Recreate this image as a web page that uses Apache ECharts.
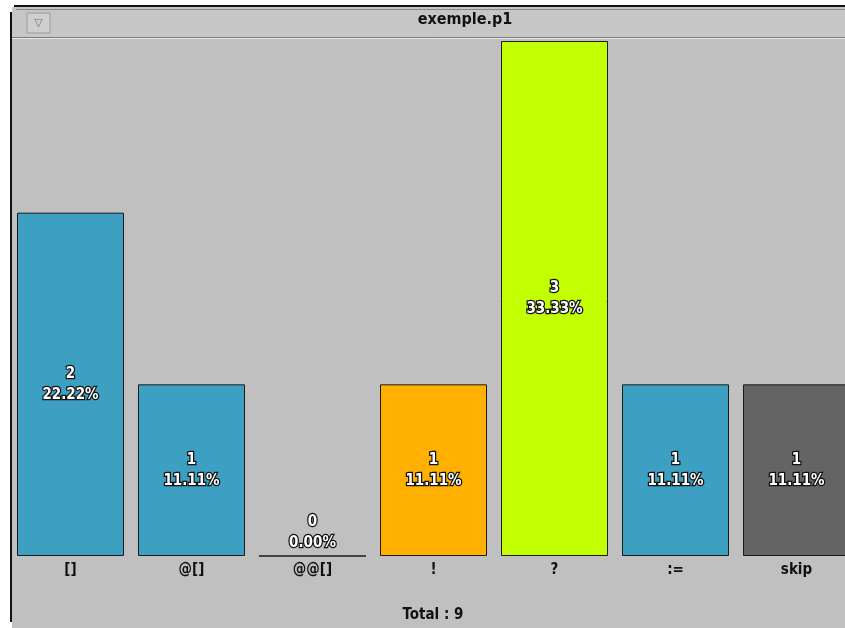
<!DOCTYPE html>
<html>
<head>
<meta charset="utf-8">
<script src="https://cdn.jsdelivr.net/npm/echarts@6/dist/echarts.min.js"></script>
<style>
html,body{margin:0;padding:0;background:#ffffff;overflow:hidden;width:845px;height:628px;}
#chart{width:857px;height:628px;}
</style>
</head>
<body>
<div id="chart"></div>
<script>
var categories = ['[]', '@[]', '@@[]', '!', '?', ':=', 'skip'];
var counts = [2, 1, 0, 1, 3, 1, 1];
var percents = ['22.22%', '11.11%', '0.00%', '11.11%', '33.33%', '11.11%', '11.11%'];
var total = 9;
var windowTitle = 'exemple.p1';

var barColors = ['#3d9fc1', '#3d9fc1', '#3d9fc1', '#ffb000', '#c2ff00', '#3d9fc1', '#646464'];

var chart = echarts.init(document.getElementById('chart'), null, {renderer: 'canvas'});

var labelFont = '"Liberation Sans Narrow","DejaVu Sans Condensed","Liberation Sans",sans-serif';

var data = counts.map(function (v, i) {
  var item = {
    value: v,
    itemStyle: {color: barColors[i], borderColor: '#1a1a1a', borderWidth: 1}
  };
  if (v === 0) {
    item.label = {position: 'top', distance: 2};
  }
  return item;
});

var option = {
  backgroundColor: '#ffffff',
  animation: false,
  graphic: [
    {type: 'rect', z: 0, shape: {x: 12, y: 7, width: 845, height: 621}, style: {fill: '#c6c6c6'}},
    {type: 'rect', z: 0, shape: {x: 12, y: 39, width: 845, height: 589}, style: {fill: '#c0c0c0'}},
    {type: 'line', z: 1, shape: {x1: 12, y1: 37.5, x2: 857, y2: 37.5}, style: {stroke: '#7a7a7a', lineWidth: 1}},
    {type: 'line', z: 1, shape: {x1: 12, y1: 38.5, x2: 857, y2: 38.5}, style: {stroke: '#e8e8e8', lineWidth: 1}},
    {type: 'line', z: 1, shape: {x1: 14, y1: 6, x2: 857, y2: 6}, style: {stroke: '#111111', lineWidth: 2}},
    {type: 'line', z: 1, shape: {x1: 16, y1: 9.5, x2: 857, y2: 9.5}, style: {stroke: '#888888', lineWidth: 1}},
    {type: 'line', z: 1, shape: {x1: 11, y1: 12, x2: 11, y2: 622}, style: {stroke: '#111111', lineWidth: 2}},
    {type: 'rect', z: 1, shape: {x: 27, y: 13, width: 23, height: 20}, style: {fill: '#cfcfcf', stroke: '#9a9a9a', lineWidth: 1}},
    {type: 'text', z: 2, style: {text: '\u25BD', x: 38.5, y: 23, align: 'center', verticalAlign: 'middle', fill: '#777777', font: '11px "DejaVu Sans",sans-serif'}},
    {type: 'text', z: 2, style: {text: windowTitle, x: 465, y: 20, align: 'center', verticalAlign: 'middle', fill: '#111111', font: 'bold 16px ' + labelFont}},
    {type: 'text', z: 2, style: {text: 'Total : ' + total, x: 433, y: 615, align: 'center', verticalAlign: 'middle', fill: '#111111', font: 'bold 15px ' + labelFont}}
  ],
  grid: {left: 10, top: 41, right: 0, height: 515, containLabel: false},
  xAxis: {
    type: 'category',
    data: categories,
    axisLine: {show: false},
    axisTick: {show: false},
    axisLabel: {
      color: '#111111',
      fontWeight: 'bold',
      fontSize: 15,
      fontFamily: labelFont,
      margin: 7,
      interval: 0
    }
  },
  yAxis: {
    type: 'value',
    min: 0,
    max: 3,
    show: false,
    splitLine: {show: false}
  },
  series: [{
    type: 'bar',
    data: data,
    barWidth: 107,
    label: {
      show: true,
      position: 'inside',
      formatter: function (p) { return p.value + '\n' + percents[p.dataIndex]; },
      color: '#ffffff',
      fontWeight: 'bold',
      fontSize: 15,
      lineHeight: 21,
      fontFamily: labelFont,
      textBorderColor: '#111111',
      textBorderWidth: 2.5
    }
  }]
};

chart.setOption(option);
</script>
</body>
</html>
